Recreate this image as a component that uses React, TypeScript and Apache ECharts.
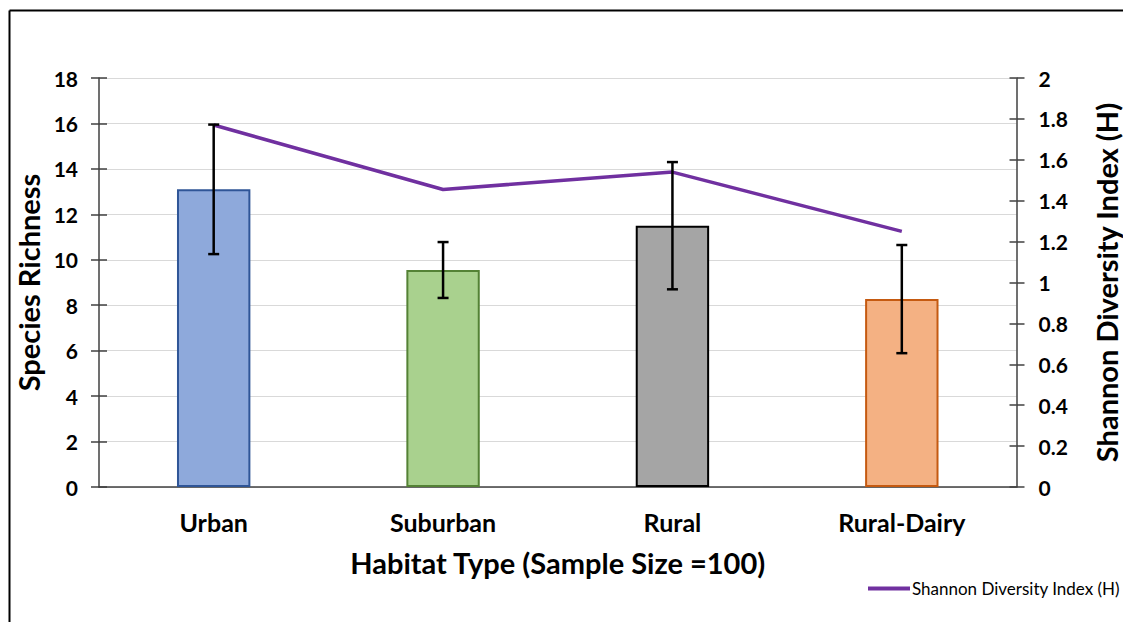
import React, { useEffect, useRef } from "react";
import * as echarts from "echarts";

const categories = ["Urban", "Suburban", "Rural", "Rural-Dairy"];
const richness = [13.1, 9.55, 11.5, 8.27];
const richnessErr = [2.85, 1.23, 2.8, 2.38];
const shannon = [1.77, 1.455, 1.54, 1.25];
const barFills = ["#8EA9DB", "#A9D18E", "#A5A5A5", "#F4B183"];
const barBorders = ["#2F5597", "#548235", "#000000", "#C55A11"];

const FONT = "Lato";

export default function App() {
  const ref = useRef<HTMLDivElement>(null);
  useEffect(() => {
    const chart = echarts.init(ref.current!, null, { renderer: "svg" });
    const errData = categories.map((_, i) => [i, richness[i] - richnessErr[i], richness[i] + richnessErr[i]]);
    const axisLabelStyle = { fontFamily: FONT, fontWeight: "bold", fontSize: 21, color: "#000" };
    chart.setOption({
      animation: false,
      textStyle: { fontFamily: FONT },
      grid: {
        left: 99,
        right: 106.5,
        top: 78,
        bottom: 135,
        containLabel: false,
        outerBoundsMode: "none",
      },
      graphic: [
        { type: "line", shape: { x1: 9.5, y1: 10.5, x2: 1123, y2: 10.5 }, style: { stroke: "#000", lineWidth: 2 } },
        { type: "line", shape: { x1: 9.5, y1: 10.5, x2: 9.5, y2: 622 }, style: { stroke: "#000", lineWidth: 2 } },
      ],
      legend: {
        data: ["Shannon Diversity Index (H)"],
        left: 868,
        top: 580,
        padding: 0,
        icon: "rect",
        itemWidth: 42,
        itemHeight: 4,
        itemGap: 4,
        textStyle: { fontFamily: FONT, fontSize: 17, color: "#000", padding: [0, 0, 0, -3] },
      },
      xAxis: {
        type: "category",
        data: categories,
        axisLine: { lineStyle: { color: "#404040", width: 1.5 } },
        axisTick: { show: false },
        axisLabel: { ...axisLabelStyle, fontSize: 25, margin: 22 },
        name: "Habitat Type (Sample Size =100)",
        nameLocation: "middle",
        nameGap: 61,
        nameTextStyle: { fontFamily: FONT, fontWeight: "bold", fontSize: 29, color: "#000" },
      },
      yAxis: [
        {
          type: "value",
          min: 0,
          max: 18,
          interval: 2,
          position: "left",
          axisLine: { show: true, lineStyle: { color: "#404040", width: 1.5 } },
          axisTick: { show: true, length: 8, lineStyle: { color: "#404040", width: 1.5 } },
          axisLabel: { ...axisLabelStyle, margin: 21 },
          splitLine: { show: true, lineStyle: { color: "#D9D9D9", width: 1 } },
          name: "Species Richness",
          nameLocation: "middle",
          nameGap: 53,
          nameRotate: 90,
          nameTextStyle: { fontFamily: FONT, fontWeight: "bold", fontSize: 29, color: "#000" },
        },
        {
          type: "value",
          min: 0,
          max: 2,
          interval: 0.2,
          position: "right",
          axisLine: { show: true, lineStyle: { color: "#404040", width: 1.5 } },
          axisTick: { show: true, length: 8, lineStyle: { color: "#404040", width: 1.5 } },
          axisLabel: { ...axisLabelStyle, margin: 22 },
          splitLine: { show: false },
          name: "Shannon Diversity Index (H)",
          nameLocation: "middle",
          nameGap: 75,
          nameRotate: 90,
          nameTextStyle: { fontFamily: FONT, fontWeight: "bold", fontSize: 29, color: "#000" },
        },
        {
          type: "value",
          min: 0,
          max: 18,
          interval: 2,
          position: "left",
          axisLine: { show: false },
          axisTick: { show: true, inside: true, length: 8, lineStyle: { color: "#404040", width: 1.5 } },
          axisLabel: { show: false },
          splitLine: { show: false },
        },
        {
          type: "value",
          min: 0,
          max: 2,
          interval: 0.2,
          position: "right",
          axisLine: { show: false },
          axisTick: { show: true, inside: true, length: 7, lineStyle: { color: "#404040", width: 1.5 } },
          axisLabel: { show: false },
          splitLine: { show: false },
        },
      ],
      series: [
        {
          name: "Species Richness",
          type: "bar",
          yAxisIndex: 0,
          barWidth: "32%",
          data: richness.map((v, i) => ({
            value: v,
            itemStyle: { color: barFills[i], borderColor: barBorders[i], borderWidth: 2 },
          })),
        },
        {
          name: "Shannon Diversity Index (H)",
          type: "line",
          yAxisIndex: 1,
          data: shannon,
          showSymbol: false,
          symbol: "none",
          lineStyle: { color: "#7030A0", width: 3.5 },
          itemStyle: { color: "#7030A0" },
          z: 3,
        },
        {
          name: "err",
          type: "custom",
          yAxisIndex: 0,
          data: errData,
          z: 4,
          renderItem: (params: any, api: any) => {
            const x = api.value(0);
            const lo = api.coord([x, api.value(1)]);
            const hi = api.coord([x, api.value(2)]);
            const cap = 5.5;
            const style = { stroke: "#000", lineWidth: 2.5 };
            return {
              type: "group",
              children: [
                { type: "line", shape: { x1: lo[0], y1: lo[1], x2: hi[0], y2: hi[1] }, style },
                { type: "line", shape: { x1: lo[0] - cap, y1: lo[1], x2: lo[0] + cap, y2: lo[1] }, style },
                { type: "line", shape: { x1: hi[0] - cap, y1: hi[1], x2: hi[0] + cap, y2: hi[1] }, style },
              ],
            };
          },
        },
      ],
    });
    return () => chart.dispose();
  }, []);
  return (
    <div
      ref={ref}
      style={{ position: "absolute", left: 0, top: 0, width: 1123, height: 622, background: "#fff" }}
    />
  );
}
